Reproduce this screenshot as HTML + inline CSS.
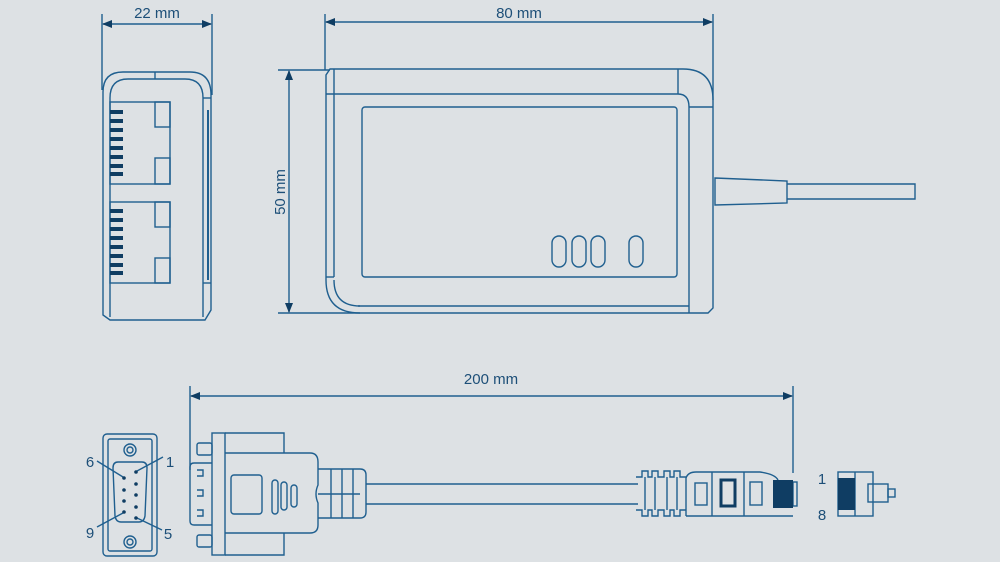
<!DOCTYPE html>
<html><head><meta charset="utf-8"><style>
html,body{margin:0;padding:0;background:#dde1e4;}
svg{display:block}
text{font-family:"Liberation Sans",sans-serif;fill:#1d4f78;font-size:15px}
</style></head><body>
<svg width="1000" height="562" viewBox="0 0 1000 562" xmlns="http://www.w3.org/2000/svg">
<rect width="1000" height="562" fill="#dde1e4"/>
<defs>
<marker id="a" markerWidth="10" markerHeight="8" refX="9" refY="4" orient="auto-start-reverse" markerUnits="userSpaceOnUse"><path d="M0,0 L10,4 L0,8 Z" fill="#0f3d63"/></marker>
</defs>
<g fill="none" stroke="#1f5f8f" stroke-width="1.4">
<line x1="102" y1="14" x2="102" y2="90"/><line x1="212" y1="14" x2="212" y2="95"/>
<line x1="103" y1="24" x2="211" y2="24" marker-start="url(#a)" marker-end="url(#a)"/>
<line x1="325" y1="14" x2="325" y2="70"/><line x1="713" y1="14" x2="713" y2="100"/>
<line x1="326" y1="22" x2="712" y2="22" marker-start="url(#a)" marker-end="url(#a)"/>
<line x1="278" y1="70" x2="330" y2="70"/><line x1="278" y1="313" x2="360" y2="313"/>
<line x1="289" y1="71" x2="289" y2="312" marker-start="url(#a)" marker-end="url(#a)"/>
<line x1="190" y1="386" x2="190" y2="470"/><line x1="793" y1="386" x2="793" y2="473"/>
<line x1="191" y1="396" x2="792" y2="396" marker-start="url(#a)" marker-end="url(#a)"/>

<path d="M103,315 L103,92 Q103,72 123,72 L190,72 Q211,72 211,95 L211,310 L205,320 L110,320 Z"/>
<path d="M110,317 L110,98 Q110,79 128,79 L185,79 Q203,79 203,98 L203,317"/>
<line x1="155" y1="72" x2="155" y2="79"/>
<line x1="203" y1="98" x2="211" y2="98"/><line x1="203" y1="283" x2="211" y2="283"/>
<line x1="208" y1="110" x2="208" y2="280" stroke-width="2"/>
<rect x="110" y="102" width="60" height="82"/><rect x="155" y="102" width="15" height="25"/><rect x="155" y="158" width="15" height="26"/>
<rect x="110" y="202" width="60" height="81"/><rect x="155" y="202" width="15" height="25"/><rect x="155" y="258" width="15" height="25"/>
</g>
<g fill="#0f3d63">
<rect x="110" y="110" width="13" height="4"/><rect x="110" y="119" width="13" height="4"/><rect x="110" y="128" width="13" height="4"/><rect x="110" y="137" width="13" height="4"/><rect x="110" y="146" width="13" height="4"/><rect x="110" y="155" width="13" height="4"/><rect x="110" y="164" width="13" height="4"/><rect x="110" y="172" width="13" height="4"/>
<rect x="110" y="209" width="13" height="4"/><rect x="110" y="218" width="13" height="4"/><rect x="110" y="227" width="13" height="4"/><rect x="110" y="236" width="13" height="4"/><rect x="110" y="245" width="13" height="4"/><rect x="110" y="254" width="13" height="4"/><rect x="110" y="263" width="13" height="4"/><rect x="110" y="271" width="13" height="4"/>
</g>

<g fill="none" stroke="#1f5f8f" stroke-width="1.4">
<path d="M330,69 L683,69 Q713,69 713,100 L713,308 L708,313 L360,313 Q326,313 326,280 L326,75 Z"/>
<line x1="326" y1="94" x2="678" y2="94"/>
<line x1="334" y1="69" x2="334" y2="277"/>
<path d="M334,277 L326,277"/>
<path d="M360,306 Q334,306 334,280"/>
<line x1="358" y1="306" x2="689" y2="306"/>
<line x1="678" y1="69" x2="678" y2="94"/>
<path d="M678,94 Q689,94 689,107 L689,313"/>
<line x1="689" y1="107" x2="713" y2="107"/>
<rect x="362" y="107" width="315" height="170" rx="3"/>
<rect x="552" y="236" width="14" height="31" rx="7"/>
<rect x="572" y="236" width="14" height="31" rx="7"/>
<rect x="591" y="236" width="14" height="31" rx="7"/>
<rect x="629" y="236" width="14" height="31" rx="7"/>
<path d="M715,178 L787,181 L787,203 L715,205 Z"/>
<path d="M787,184 L915,184 L915,199 L787,199"/>

<rect x="103" y="434" width="54" height="122" rx="4"/>
<rect x="108" y="439" width="44" height="112" rx="2"/>
<circle cx="130" cy="450" r="6"/><circle cx="130" cy="450" r="3"/>
<circle cx="130" cy="542" r="6"/><circle cx="130" cy="542" r="3"/>
<path d="M118,462 L142,462 Q147,462 147,468 L145,516 Q144,522 139,522 L121,522 Q116,522 115,516 L113,468 Q113,462 118,462 Z"/>
<line x1="97" y1="461" x2="123" y2="477"/><line x1="163" y1="457" x2="137" y2="471"/>
<line x1="97" y1="527" x2="123" y2="513"/><line x1="162" y1="530" x2="137" y2="518"/>

<rect x="212" y="433" width="13" height="122"/>
<path d="M225,433 L284,433 L284,453"/><path d="M225,555 L284,555 L284,533"/>
<path d="M225,453 L310,453 Q318,453 318,462 L318,485 Q314,494 318,503 L318,525 Q318,533 310,533 L225,533"/>
<rect x="197" y="443" width="15" height="12" rx="2"/><rect x="197" y="535" width="15" height="12" rx="2"/>
<path d="M212,463 L194,463 Q190,463 190,467 L190,521 Q190,525 194,525 L212,525"/>
<path d="M197,470 L203,470 L203,476 L197,476"/><path d="M197,490 L203,490 L203,496 L197,496"/><path d="M197,510 L203,510 L203,516 L197,516"/>
<rect x="231" y="475" width="31" height="39" rx="3"/>
<rect x="272" y="480" width="6" height="34" rx="3"/><rect x="281" y="482" width="6" height="28" rx="3"/><rect x="291" y="485" width="6" height="22" rx="3"/>
<path d="M318,469 L360,469 Q366,469 366,475 L366,512 Q366,518 360,518 L318,518"/>
<line x1="331" y1="469" x2="331" y2="518"/><line x1="342" y1="469" x2="342" y2="518"/><line x1="353" y1="469" x2="353" y2="518"/>
<line x1="318" y1="494" x2="360" y2="494"/>
<line x1="366" y1="484" x2="638" y2="484"/><line x1="366" y1="504" x2="638" y2="504"/>

<path d="M636,477 L642,477 L642,471 L648,471 L648,477 L652,477 L652,471 L658,471 L658,477 L664,477 L664,471 L670,471 L670,477 L674,477 L674,471 L680,471 L680,477 L686,477 M636,510 L642,510 L642,516 L648,516 L648,510 L652,510 L652,516 L658,516 L658,510 L664,510 L664,516 L670,516 L670,510 L674,510 L674,516 L680,516 L680,510 L686,510"/>
<line x1="645" y1="477" x2="645" y2="510"/><line x1="655" y1="477" x2="655" y2="510"/><line x1="667" y1="477" x2="667" y2="510"/><line x1="677" y1="477" x2="677" y2="510"/>
<path d="M686,516 L686,478 Q688,472 696,472 L760,472 Q775,474 778,480 M686,516 L793,516"/>
<line x1="712" y1="472" x2="712" y2="516"/><line x1="744" y1="472" x2="744" y2="516"/>
<rect x="695" y="483" width="12" height="22"/>
<rect x="721" y="480" width="14" height="26" stroke="#0f3d63" stroke-width="3"/>
<rect x="750" y="482" width="12" height="23"/>
<rect x="793" y="482" width="4" height="24"/>
<rect x="838" y="472" width="35" height="44"/>
<line x1="855" y1="472" x2="855" y2="516"/>
<rect x="868" y="484" width="20" height="18"/>
<rect x="888" y="489" width="7" height="8"/>
</g>
<g fill="#0f3d63">
<rect x="773" y="480" width="20" height="28"/>
<rect x="838" y="478" width="17" height="32"/>
<circle cx="124" cy="478" r="1.8"/><circle cx="124" cy="490" r="1.8"/><circle cx="124" cy="501" r="1.8"/><circle cx="124" cy="512" r="1.8"/>
<circle cx="136" cy="472" r="1.8"/><circle cx="136" cy="484" r="1.8"/><circle cx="136" cy="495" r="1.8"/><circle cx="136" cy="507" r="1.8"/><circle cx="136" cy="518" r="1.8"/>
</g>
<text x="157" y="18" text-anchor="middle">22 mm</text>
<text x="519" y="18" text-anchor="middle">80 mm</text>
<text x="491" y="384" text-anchor="middle">200 mm</text>
<text transform="translate(285,192) rotate(-90)" text-anchor="middle">50 mm</text>
<text x="90" y="467" text-anchor="middle" font-size="16">6</text>
<text x="170" y="467" text-anchor="middle" font-size="16">1</text>
<text x="90" y="538" text-anchor="middle" font-size="16">9</text>
<text x="168" y="539" text-anchor="middle" font-size="16">5</text>
<text x="822" y="484" text-anchor="middle" font-size="16">1</text>
<text x="822" y="520" text-anchor="middle" font-size="16">8</text>
</svg>
</body></html>
